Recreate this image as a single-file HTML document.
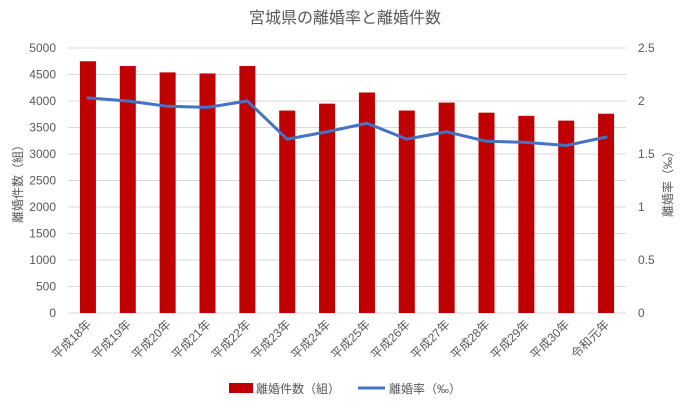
<!DOCTYPE html>
<html><head><meta charset="utf-8"><style>
body{margin:0;background:#fff;font-family:"Liberation Sans","Noto Sans CJK JP",sans-serif;}
svg text{font-family:"Liberation Sans","Noto Sans CJK JP",sans-serif;fill:#595959;}
</style></head><body>
<svg id="c" width="690" height="407">
<rect width="690" height="407" fill="#fff"/>
<text x="345" y="23" text-anchor="middle" font-size="16">宮城県の離婚率と離婚件数</text>
<text transform="translate(22,181) rotate(-90)" text-anchor="middle" font-size="12">離婚件数（組）</text>
<text transform="translate(672,181) rotate(-90)" text-anchor="middle" font-size="12">離婚率（‰）</text>
<g id="g"></g>
<g>
<rect x="229" y="383" width="24" height="10" fill="#c00000"/>
<text x="256" y="393" font-size="12">離婚件数（組）</text>
<line x1="358" y1="388" x2="385" y2="388" stroke="#4472c4" stroke-width="3"/>
<text x="389" y="393" font-size="12">離婚率（‰）</text>
</g>
</svg>
<script>
const categories=["平成18年","平成19年","平成20年","平成21年","平成22年","平成23年","平成24年","平成25年","平成26年","平成27年","平成28年","平成29年","平成30年","令和元年"];
const counts=[4750,4660,4540,4520,4660,3820,3950,4160,3820,3970,3780,3720,3630,3760];
const rates=[2.03,2.00,1.95,1.94,2.00,1.64,1.71,1.79,1.64,1.71,1.62,1.61,1.58,1.66];
const leftTicks=[0,500,1000,1500,2000,2500,3000,3500,4000,4500,5000];
const rightTicks=[0,0.5,1,1.5,2,2.5];
const L=68,R=626,T=48,B=313;
const ns="http://www.w3.org/2000/svg",g=document.getElementById('g');
const step=(R-L)/categories.length;
const xc=i=>L+step*(i+0.5);
const yL=v=>B-(v/5000)*(B-T);
const yR=v=>B-(v/2.5)*(B-T);
function mk(t,a){const e=document.createElementNS(ns,t);for(const k in a)e.setAttribute(k,a[k]);g.appendChild(e);return e;}
leftTicks.forEach(v=>{
 const l=mk('line',{x1:L,x2:R,y1:yL(v),y2:yL(v),stroke:'#d9d9d9','stroke-width':1});
 
 
 const t=mk('text',{x:L-12,y:yL(v)+4,'text-anchor':'end','font-size':12});t.textContent=v;
 
 
});
rightTicks.forEach(v=>{
 const t=mk('text',{x:R+12,y:yR(v)+4,'font-size':12});t.textContent=v;
 
 
});
counts.forEach((v,i)=>{
 const r=mk('rect',{x:xc(i)-8,y:yL(v),width:16,height:B-yL(v),fill:'#c00000'});
 
 
});
const p=mk('polyline',{points:rates.map((v,i)=>xc(i)+','+yR(v)).join(' '),fill:'none',stroke:'#4472c4','stroke-width':3,'stroke-linejoin':'round','stroke-linecap':'round'});


categories.forEach((c,i)=>{
 const t=mk('text',{transform:`translate(${xc(i)+4},${B+12}) rotate(-45)`,'text-anchor':'end','font-size':12});t.textContent=c;
 
 
});
</script>
</body></html>
